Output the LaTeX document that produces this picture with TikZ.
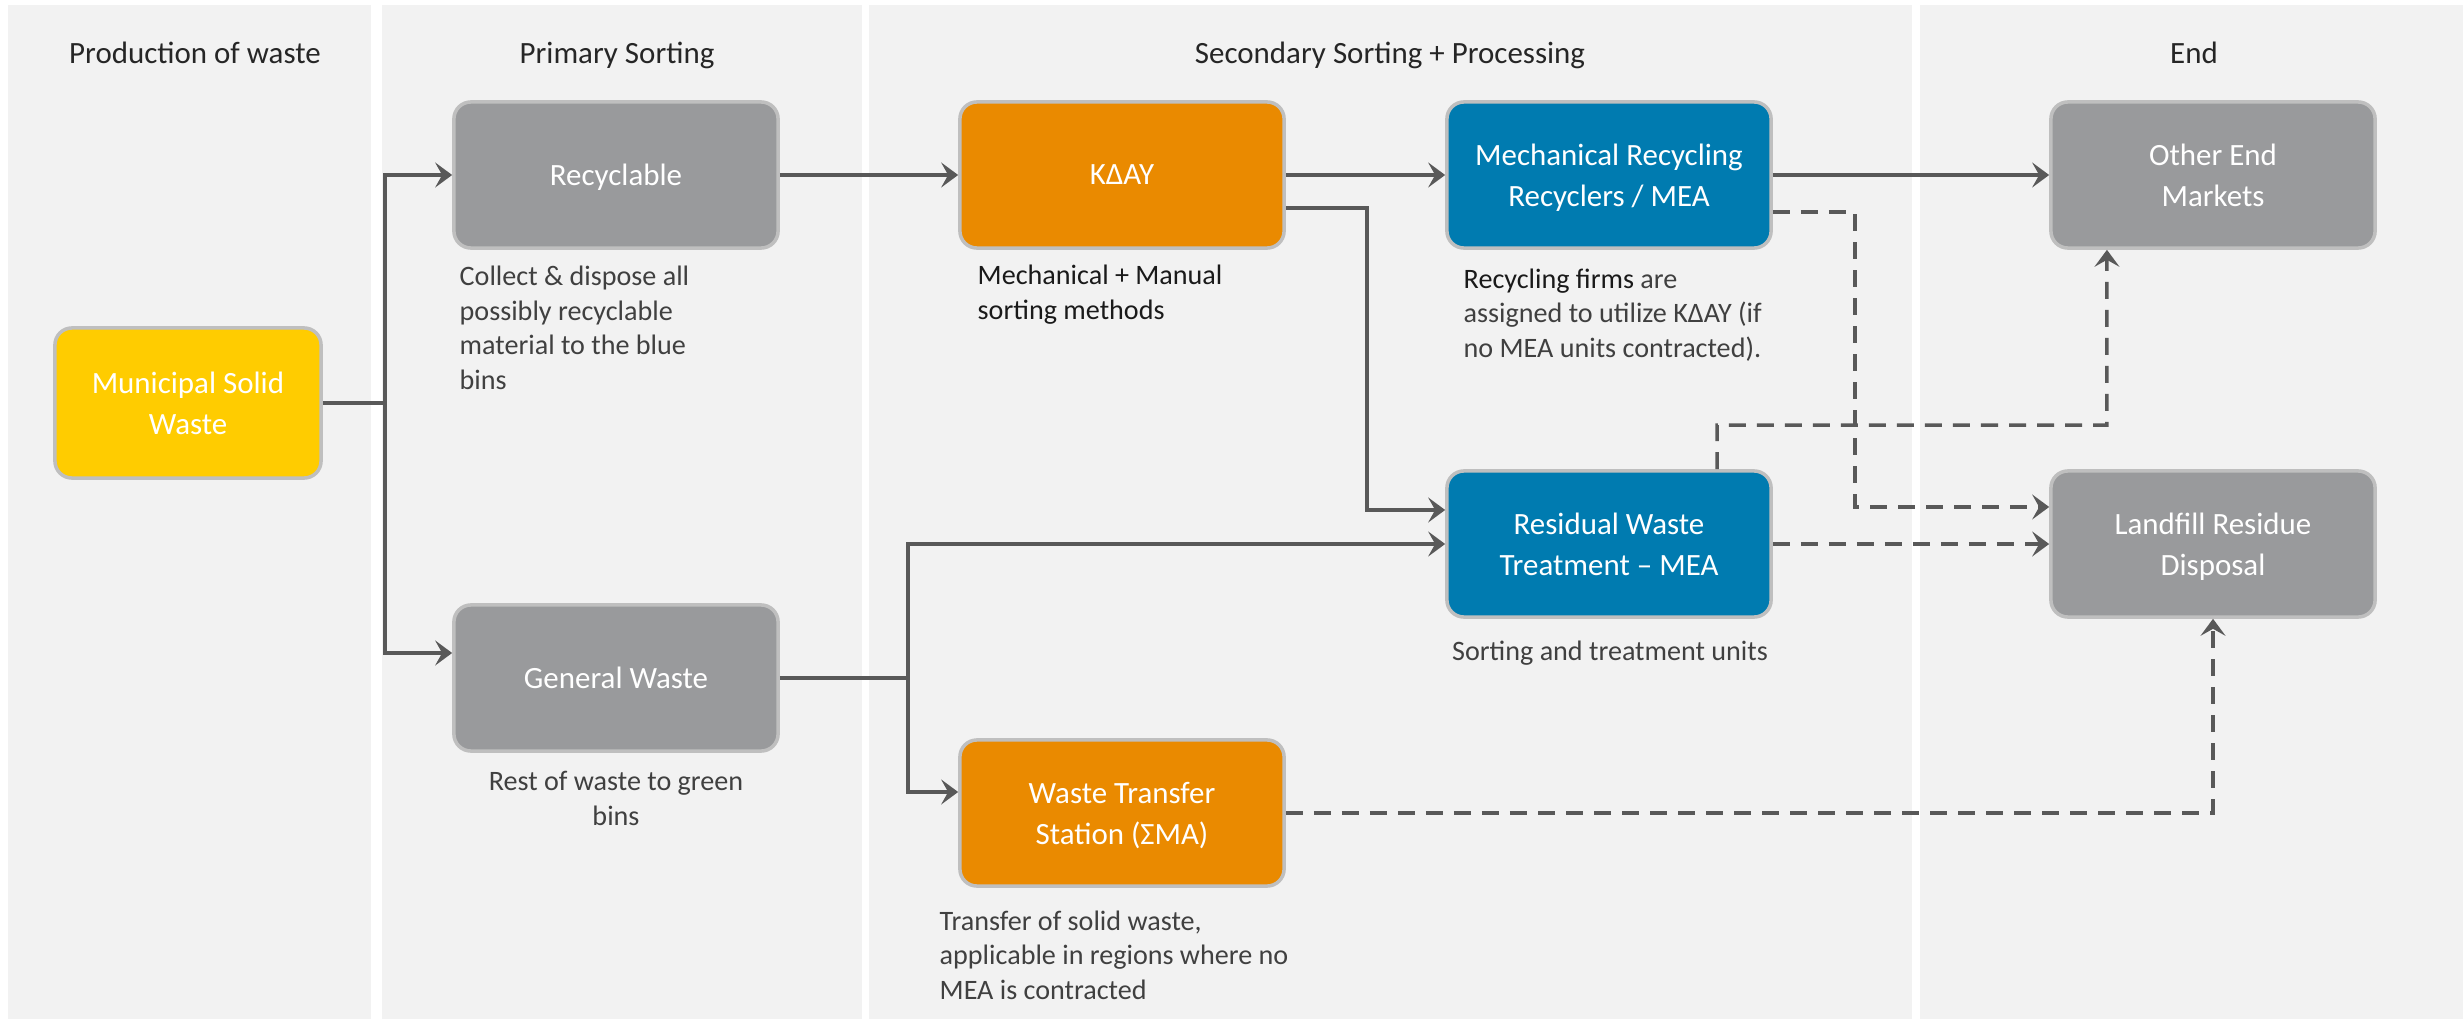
\documentclass[tikz,border=0pt]{standalone}
\usepackage{fontspec}
\setmainfont{Carlito}
\usetikzlibrary{arrows.meta}
\definecolor{lanebg}{HTML}{F2F2F2}
\definecolor{boxgray}{HTML}{999A9C}
\definecolor{boxorange}{HTML}{EA8A00}
\definecolor{boxblue}{HTML}{007BB0}
\definecolor{boxyellow}{HTML}{FFCC00}
\definecolor{boxedge}{HTML}{BFBFBF}
\definecolor{linecol}{HTML}{595959}
\definecolor{desccol}{HTML}{404040}
\definecolor{headcol}{HTML}{262626}
\definecolor{darktext}{HTML}{1A1A1A}
\begin{document}
\begin{tikzpicture}[x=0.01cm,y=-0.01cm,
 procbox/.style={rectangle, rounded corners=0.17cm, draw=boxedge, line width=0.035cm,
   minimum width=3.24cm, minimum height=1.46cm, text=white, align=center, inner sep=0pt,
   text depth=0pt, font=\fontsize{8.8}{11.6}\selectfont},
 lanehead/.style={text=headcol, font=\fontsize{8.8}{10.5}\selectfont, inner sep=0pt, anchor=base},
 desctext/.style={text=desccol, font=\fontsize{8}{9.8}\selectfont, inner sep=0pt, align=left, anchor=base west},
 conn/.style={draw=linecol, line width=0.035cm},
 arr/.style={conn, -{Stealth[length=0.17cm,width=0.25cm,inset=0.07cm]}},
 darr/.style={arr, dash pattern=on 0.17cm off 0.11cm},
]
\useasboundingbox (0,0) rectangle (2463,1024);
\fill[white] (0,0) rectangle (2463,1024);
% lanes
\fill[lanebg] (8,5) rectangle (371,1019);
\fill[lanebg] (382,5) rectangle (862,1019);
\fill[lanebg] (869,5) rectangle (1912,1019);
\fill[lanebg] (1920,5) rectangle (2463,1019);
% headers
\node[lanehead] (h1) at (195,63) {Production of waste};
\node[lanehead] (h2) at (617,63) {Primary Sorting};
\node[lanehead] (h3) at (1390,63) {Secondary Sorting + Processing};
\node[lanehead] (h4) at (2194,63) {End};
% boxes
\node[procbox, fill=boxyellow, minimum width=2.66cm, minimum height=1.50cm] (msw) at (188,403) {Municipal Solid\\Waste};
\node[procbox, fill=boxgray] (rec) at (616,175) {Recyclable};
\node[procbox, fill=boxgray] (gen) at (616,678) {General Waste};
\node[procbox, fill=boxorange] (kday) at (1122,175) {KΔAY};
\node[procbox, fill=boxblue] (mech) at (1609,175) {Mechanical Recycling\\Recyclers / MEA};
\node[procbox, fill=boxblue] (resid) at (1609,544) {Residual Waste\\Treatment – MEA};
\node[procbox, fill=boxorange] (wts) at (1122,813) {Waste Transfer\\Station (ΣMA)};
\node[procbox, fill=boxgray] (other) at (2213,175) {Other End\\Markets};
\node[procbox, fill=boxgray] (landfill) at (2213,544) {Landfill Residue\\Disposal};
% descriptions (base = baseline of the last line)
\node[desctext] (drec) at (459,389) {Collect \& dispose all\\possibly recyclable\\material to the blue\\bins};
\node[desctext, align=center, anchor=base] (dgen) at (616,825) {Rest of waste to green\\bins};
\node[desctext, text=darktext] (dkday) at (977,319) {Mechanical + Manual\\sorting methods};
\node[desctext] (dmech) at (1463,357) {{\color{darktext}Recycling firms} are\\assigned to utilize KΔAY (if\\no MEA units contracted).};
\node[desctext, align=center, anchor=base] (dresid) at (1610,660) {Sorting and treatment units};
\node[desctext] (dwts) at (939,999) {Transfer of solid waste,\\applicable in regions where no\\MEA is contracted};
% connectors
\coordinate (j1) at (385,403);
\draw[conn] (msw.east) -- (j1);
\draw[arr] (j1) |- (rec.west);
\draw[arr] (j1) |- ([yshift=0.25cm]gen.west);
\draw[arr] (rec.east) -- (kday.west);
\draw[arr] (kday.east) -- (mech.west);
\draw[arr] ([yshift=-0.33cm]kday.east) -- ++(81,0) |- ([yshift=0.34cm]resid.west);
\coordinate (j2) at (908,678);
\draw[conn] (gen.east) -- (j2);
\draw[arr] (j2) |- (resid.west);
\draw[arr] (j2) |- ([yshift=0.21cm]wts.west);
\draw[arr] (mech.east) -- (other.west);
\draw[darr] ([yshift=-0.37cm]mech.east) -- ++(82,0) |- ([yshift=0.37cm]landfill.west);
\draw[darr] (resid.east) -- (landfill.west);
\coordinate (c3) at (1717,425);
\draw[darr] ([xshift=1.08cm]resid.north) -- (c3) -| ([xshift=-1.06cm]other.south);
\draw[darr] (wts.east) -| (landfill.south);
\end{tikzpicture}
\end{document}
